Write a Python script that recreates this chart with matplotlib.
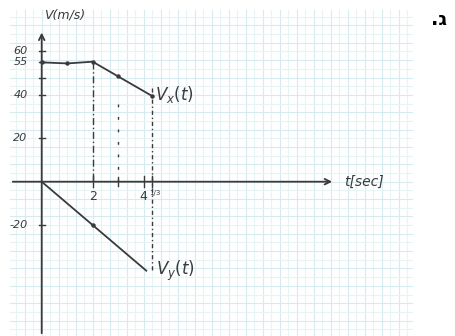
import numpy as np
import matplotlib.pyplot as plt

# hand-drawn velocity sketch
t_vx = [0, 1, 2, 3, 4.33]
vx = [55, 54.5, 55.3, 48.5, 39.5]
t_vy = [0, 2, 4.1]
vy = [0, -20, -41]

y_ticks = [60, 55, 40, 20, -20]
y_labels = ["60", "55", "40", "20", "-20"]
x_ticks = [2, 4]
x_labels = ["2", "4"]

# guide lines: (t, v_top, v_bottom, dash pattern)
guides = [(2, 55, 0, (0, (5, 2, 1, 2))),
          (3, 36, 0, (0, (2, 7))),
          (4.33, 43, -41, (0, (3, 2, 1, 2)))]

fig = plt.figure(figsize=(4.56, 3.36), dpi=100)
ax = fig.add_axes([0, 0, 1, 1])
# pixel mapping: x = 41.7 + 25.5 t, y = 181.7 - 2.17 v
px_t, px_v = 25.5, 2.17
ax.set_xlim(-41.7 / px_t, (456 - 41.7) / px_t)
ax.set_ylim((181.7 - 336) / px_v, 181.7 / px_v)
ax.axis("off")

# grid paper
g_t0, g_t1 = (10 - 41.7) / px_t, (412 - 41.7) / px_t
g_v0, g_v1 = (181.7 - 336) / px_v, (181.7 - 10) / px_v
for i, t in enumerate(np.arange(-4 / 3, g_t1, 1 / 3)):
    if t < g_t0:
        continue
    c = "#d6eaef" if i % 2 == 0 else "#e8f3f6"
    ax.plot([t, t], [g_v0, g_v1], color=c, lw=0.8, zorder=0)
for i, v in enumerate(np.arange(-72, g_v1, 4)):
    if v < g_v0:
        continue
    c = "#d6eaef" if i % 2 == 0 else "#e8f3f6"
    ax.plot([g_t0, g_t1], [v, v], color=c, lw=0.8, zorder=0)

ink = "#3a3a3a"
# axes with arrows
ax.annotate("", xy=(11.5, 0), xytext=(g_t0, 0),
            arrowprops=dict(arrowstyle="->", color=ink, lw=1.3))
ax.annotate("", xy=(0, 70), xytext=(0, g_v0),
            arrowprops=dict(arrowstyle="->", color=ink, lw=1.3))

# ticks and labels
for v, lab in zip(y_ticks, y_labels):
    ax.plot([-0.12, 0.12], [v, v], color=ink, lw=1)
    ax.text(-0.55, v, lab, ha="right", va="center", fontsize=8,
            style="italic", color=ink)
ax.plot([-0.12, 0.12], [48, 48], color=ink, lw=1)
for t, lab in zip(x_ticks, x_labels):
    ax.plot([t, t], [-2.5, 2.5], color=ink, lw=1)
    ax.text(t, -4, lab, ha="center", va="top", fontsize=9, color=ink)
ax.plot([3, 3], [-2, 2], color=ink, lw=1)
ax.plot([4.33, 4.33], [-2.5, 2.5], color=ink, lw=1)
ax.text(4.45, -4, "1/3", ha="center", va="top", fontsize=5, color=ink)

# guide lines
for t, v0, v1, ls in guides:
    ax.plot([t, t], [v0, v1], color=ink, lw=1, ls=ls)

# velocity curves
ax.plot(t_vx, vx, color=ink, lw=1.3, marker="o", ms=2.2)
ax.plot(t_vy, vy, color=ink, lw=1.3)
ax.plot([2], [-20], "o", color=ink, ms=2.2)

ax.text(0.1, 74, "V(m/s)", fontsize=9, style="italic", color=ink,
        ha="left", va="bottom")
ax.text(4.45, 40, r"$V_x(t)$", fontsize=12, color=ink, ha="left", va="center")
ax.text(4.5, -41, r"$V_y(t)$", fontsize=12, color=ink, ha="left", va="center")
ax.text(11.85, 0, "t[sec]", fontsize=10, style="italic", color=ink,
        ha="left", va="center")
ax.text(15.6, 75, ".ג", fontsize=14, color="black", fontweight="bold",
        ha="center", va="center")

fig.savefig("out.png", dpi=100)
